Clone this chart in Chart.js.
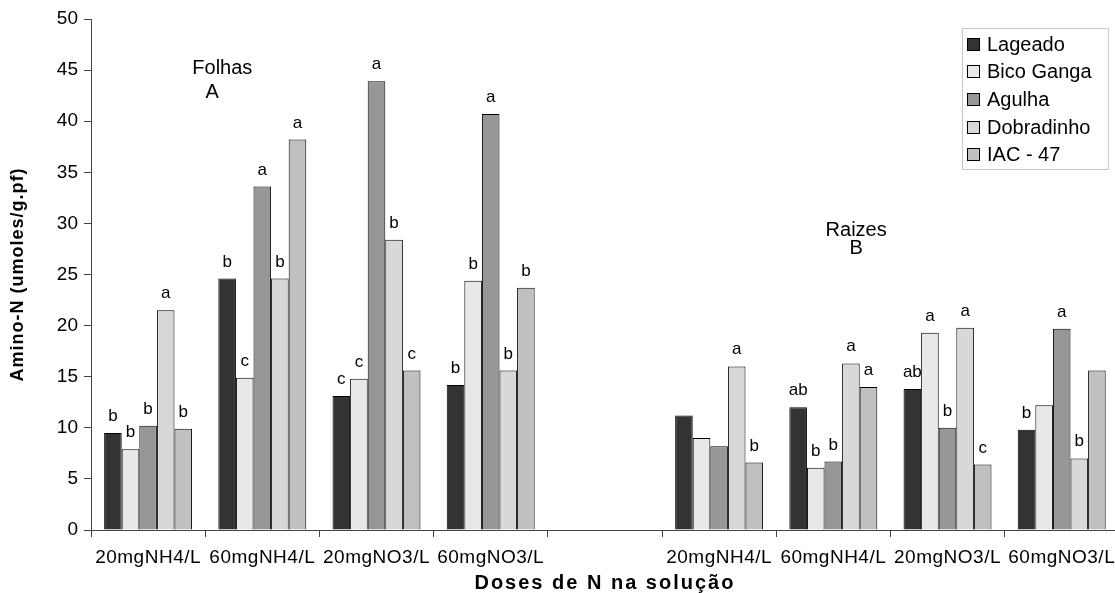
<!DOCTYPE html>
<html>
<head>
<meta charset="utf-8">
<script src="https://cdn.jsdelivr.net/npm/chart.js@4.4.1/dist/chart.umd.min.js"></script>
<style>
  html, body { margin: 0; padding: 0; background: #fff; overflow: hidden; }
  #wrap { width: 1122px; height: 593px; position: relative; }
</style>
</head>
<body>
<div id="wrap"><canvas id="c"></canvas></div>
<script>
// Amino-N (umoles/g.pf) per cultivar; first four doses are leaves (Folhas),
// the empty slot separates them from the root (Raizes) doses.
const categories = ['20mgNH4/L', '60mgNH4/L', '20mgNO3/L', '60mgNO3/L', '',
                    '20mgNH4/L', '60mgNH4/L', '20mgNO3/L', '60mgNO3/L'];

const lageado    = [9.5, 24.6, 13.1, 14.2, null, 11.2, 12.0, 13.8, 9.8];
const bicoGanga  = [7.9, 14.9, 14.8, 24.4, null, 9.0, 6.1, 19.3, 12.2];
const agulha     = [10.2, 33.6, 43.9, 40.7, null, 8.2, 6.7, 10.0, 19.7];
const dobradinho = [21.5, 24.6, 28.4, 15.6, null, 16.0, 16.3, 19.8, 7.0];
const iac47      = [9.9, 38.2, 15.6, 23.7, null, 6.6, 14.0, 6.4, 15.6];

// Significance letters written above each bar
const lageadoLetters    = ['b', 'b', 'c', 'b', '', '', 'ab', 'ab', 'b'];
const bicoGangaLetters  = ['b', 'c', 'c', 'b', '', '', 'b', 'a', ''];
const agulhaLetters     = ['b', 'a', 'a', 'a', '', '', 'b', 'b', 'a'];
const dobradinhoLetters = ['a', 'b', 'b', 'b', '', 'a', 'a', 'a', 'b'];
const iac47Letters      = ['b', 'a', 'c', 'b', '', 'b', 'a', 'c', ''];

const yTicks = [0, 5, 10, 15, 20, 25, 30, 35, 40, 45, 50];

const FONT = '"Liberation Sans", Arial, sans-serif';

const series = [
  { label: 'Lageado',     data: lageado,    letters: lageadoLetters,    color: '#333333' },
  { label: 'Bico Ganga',  data: bicoGanga,  letters: bicoGangaLetters,  color: '#e8e8e8' },
  { label: 'Agulha',      data: agulha,     letters: agulhaLetters,     color: '#979797' },
  { label: 'Dobradinho',  data: dobradinho, letters: dobradinhoLetters, color: '#d8d8d8' },
  { label: 'IAC - 47',    data: iac47,      letters: iac47Letters,      color: '#c0c0c0' }
];

// Wraps a scale drawing method so its text is rendered with extra letter spacing
function withSpacing(scale, method, spacing) {
  const original = scale[method];
  scale[method] = function (...args) {
    const ctx = this.ctx;
    const prev = ctx.letterSpacing;
    ctx.letterSpacing = spacing;
    original.apply(this, args);
    ctx.letterSpacing = prev;
  };
}
const spacedAxisText = {
  id: 'spacedAxisText',
  afterLayout(chart) {
    const { x, y } = chart.scales;
    if (!x._spaced) {
      x._spaced = true;
      withSpacing(x, 'drawLabels', '0.5px');
      withSpacing(x, 'drawTitle', '2px');
    }
    if (!y._spaced) {
      y._spaced = true;
      withSpacing(y, 'drawTitle', '1px');
    }
  }
};

// Letters above bars, drawn underneath the bars themselves
const barLetters = {
  id: 'barLetters',
  beforeDatasetsDraw(chart) {
    const ctx = chart.ctx;
    ctx.save();
    ctx.font = '17px ' + FONT;
    ctx.fillStyle = '#000';
    ctx.textAlign = 'center';
    ctx.textBaseline = 'alphabetic';
    chart.data.datasets.forEach((ds, di) => {
      const meta = chart.getDatasetMeta(di);
      meta.data.forEach((bar, i) => {
        const t = ds.letters[i];
        if (!t || ds.data[i] == null) return;
        ctx.fillText(t, bar.x, bar.y - 12);
      });
    });
    ctx.restore();
  }
};

// Panel captions placed in data coordinates
const panelNotes = [
  { text: 'Folhas', x: 0.65, y: 45.2 },
  { text: 'A',      x: 0.56, y: 42.8 },
  { text: 'Raizes', x: 6.2,  y: 29.3 },
  { text: 'B',      x: 6.2,  y: 27.5 }
];
const panelCaptions = {
  id: 'panelCaptions',
  afterDatasetsDraw(chart) {
    const { ctx, scales: { x, y } } = chart;
    ctx.save();
    ctx.font = '20px ' + FONT;
    ctx.fillStyle = '#000';
    ctx.textAlign = 'center';
    ctx.textBaseline = 'middle';
    panelNotes.forEach(n => ctx.fillText(n.text, x.getPixelForValue(n.x), y.getPixelForValue(n.y)));
    ctx.restore();
  }
};

// Boxed legend in the upper right of the plot
const boxLegend = {
  id: 'boxLegend',
  afterDraw(chart) {
    const ctx = chart.ctx;
    const left = 962, top = 28, w = 146, h = 141;
    ctx.save();
    ctx.fillStyle = '#fff';
    ctx.fillRect(left, top, w, h);
    ctx.strokeStyle = '#c8c8c8';
    ctx.lineWidth = 1;
    ctx.strokeRect(left + 0.5, top + 0.5, w, h);
    ctx.font = '20px ' + FONT;
    ctx.textBaseline = 'middle';
    ctx.textAlign = 'left';
    chart.data.datasets.forEach((ds, i) => {
      const cy = top + 16 + i * 27.7;
      ctx.fillStyle = ds.backgroundColor;
      ctx.fillRect(967.5, Math.round(cy - 6.5) + 0.5, 12, 12);
      ctx.strokeStyle = '#000';
      ctx.strokeRect(967.5, Math.round(cy - 6.5) + 0.5, 12, 12);
      ctx.fillStyle = '#000';
      ctx.fillText(ds.label, 987, cy + 1);
    });
    ctx.restore();
  }
};

new Chart(document.getElementById('c'), {
  type: 'bar',
  data: {
    labels: categories,
    datasets: series.map(s => ({
      label: s.label,
      data: s.data,
      letters: s.letters,
      backgroundColor: s.color,
      borderColor: '#000',
      borderWidth: 1,
      barPercentage: 1.0,
      categoryPercentage: 0.77
    }))
  },
  options: {
    responsive: true,
    maintainAspectRatio: false,
    animation: false,
    layout: { padding: { top: 19, right: 1, bottom: 0, left: 0 } },
    plugins: {
      legend: { display: false },
      tooltip: { enabled: false }
    },
    scales: {
      x: {
        grid: { display: true, drawOnChartArea: false, drawTicks: true, tickLength: 7, color: '#444', offset: true },
        border: { display: true, color: '#444', width: 1 },
        ticks: { color: '#000', font: { family: FONT, size: 19 }, padding: 9, maxRotation: 0, autoSkip: false },
        title: { display: true, text: 'Doses de N na solução', color: '#000',
                 font: { family: FONT, size: 20, weight: 'bold', lineHeight: 1 }, padding: { top: 0, bottom: 0 } },
        afterFit(scale) { scale.height = 63; }
      },
      y: {
        min: 0, max: 50,
        afterBuildTicks(scale) { scale.ticks = yTicks.map(v => ({ value: v })); },
        grid: { display: true, drawOnChartArea: false, drawTicks: true, tickLength: 7, color: '#444' },
        border: { display: true, color: '#444', width: 1 },
        ticks: { color: '#000', font: { family: FONT, size: 19 }, padding: 6 },
        title: { display: true, text: 'Amino-N (umoles/g.pf)', color: '#000',
                 font: { family: FONT, size: 18, weight: 'bold' }, padding: { top: 7, bottom: 0 } },
        afterFit(scale) { scale.width = 91; }
      }
    }
  },
  plugins: [spacedAxisText, barLetters, panelCaptions, boxLegend]
});
</script>
</body>
</html>
